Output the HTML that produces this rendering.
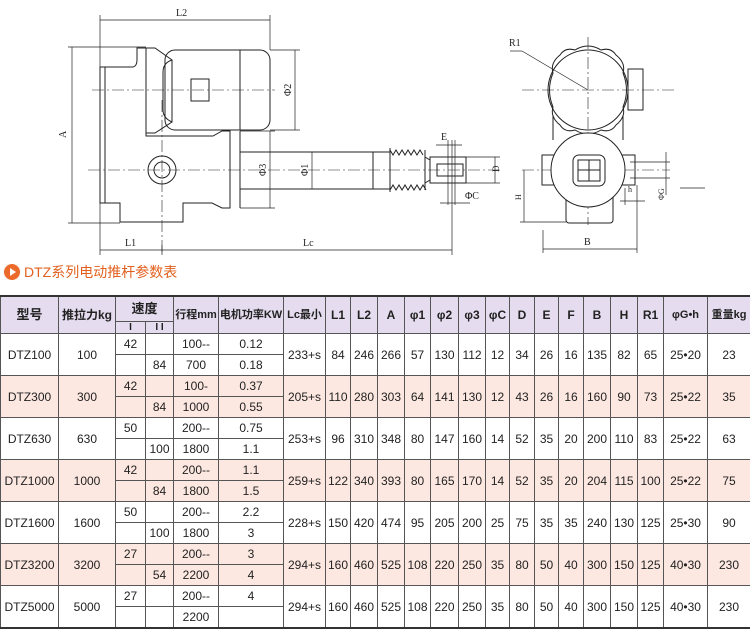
<!DOCTYPE html>
<html><head><meta charset="utf-8"><style>
body{margin:0;width:750px;height:630px;background:#fff;position:relative;overflow:hidden;font-family:"Liberation Sans","Noto Sans CJK SC",sans-serif;}
svg{position:absolute;left:0;top:0}
.title{position:absolute;left:4px;top:262px;height:20px;font-size:14px;color:#e2601e;line-height:20px;font-family:"Liberation Sans","Noto Sans CJK SC",sans-serif;}
.title i{display:inline-block;width:16px;height:16px;border-radius:50%;background:#ec6a2a;vertical-align:-3px;margin-right:4px;position:relative}
.title i:after{content:"";position:absolute;left:6px;top:4px;border-left:6px solid #fff;border-top:4px solid transparent;border-bottom:4px solid transparent}
table{position:absolute;left:0;top:295px;border-collapse:collapse;table-layout:fixed;width:750px;font-size:12px;color:#222}
td{border:1px solid #555;text-align:center;padding:0;height:20px;line-height:14px;overflow:hidden;white-space:nowrap}
tr.h td{background:#e5ddef;font-weight:bold}
tr.p td{background:#fde8e1}
table{border-top:2px solid #333;border-bottom:2px solid #333}
</style></head><body>
<svg width="750" height="260" viewBox="0 0 750 260" fill="none" stroke="#222" stroke-width="1" font-family="Liberation Serif" font-size="10">
<g stroke-width="0.7">
<line x1="100" y1="20" x2="270" y2="20"/><line x1="100" y1="15" x2="100" y2="255"/><line x1="270" y1="15" x2="270" y2="50"/>
<line x1="72" y1="47" x2="72" y2="223"/><line x1="68" y1="47" x2="146" y2="47"/><line x1="68" y1="223" x2="120" y2="223"/>
<line x1="270" y1="50" x2="300" y2="50"/><line x1="270" y1="130" x2="300" y2="130"/><line x1="295" y1="50" x2="295" y2="130"/>
<line x1="240" y1="131" x2="275" y2="131"/><line x1="240" y1="208" x2="275" y2="208"/><line x1="270" y1="131" x2="270" y2="208"/>
<line x1="312" y1="152" x2="312" y2="189"/>
<line x1="100" y1="250" x2="452" y2="250"/><line x1="162" y1="245" x2="162" y2="255"/><line x1="452" y1="140" x2="452" y2="255"/>
<line x1="436" y1="145" x2="462" y2="145"/><line x1="448" y1="140" x2="448" y2="205"/><line x1="455" y1="140" x2="455" y2="205"/>
<line x1="440" y1="203" x2="470" y2="203"/>
<line x1="465" y1="157" x2="500" y2="157"/><line x1="465" y1="183" x2="500" y2="183"/><line x1="495" y1="157" x2="495" y2="183"/>
</g>
<g stroke-dasharray="12,3,2,3" stroke-width="0.6">
<line x1="92" y1="90" x2="275" y2="90"/><line x1="88" y1="170" x2="500" y2="170"/><line x1="162" y1="100" x2="162" y2="255"/>
<line x1="588" y1="37" x2="588" y2="225"/><line x1="522" y1="90" x2="675" y2="90"/><line x1="522" y1="170" x2="670" y2="170"/>
</g>
<path d="M100 67H133Q137 66 137 60V48H146V136H213L222 131H230V208H222L212 203H183V222H120V203H100Z"/>
<line x1="105" y1="67" x2="105" y2="203"/>
<path d="M146 48H155L172 60V122L155 133H146"/>
<rect x="165" y="50" width="105" height="80" rx="10"/>
<path d="M172 60Q163 63 163 72V110Q163 118 172 122"/>
<line x1="240" y1="50" x2="240" y2="130"/>
<rect x="191" y="79" width="18" height="22"/>
<line x1="240" y1="131" x2="240" y2="208"/>
<rect x="240" y="152" width="150" height="37"/><line x1="373" y1="152" x2="373" y2="189"/>
<path d="M390 150l3 5 3-5 3 5 3-5 3 5 3-5 3 5 3-5 3 5 3-5 3 5 M390 190l3-5 3 5 3-5 3 5 3-5 3 5 3-5 3 5 3-5 3 5 3-5 3 5"/>
<line x1="390" y1="148" x2="390" y2="192"/><line x1="425" y1="150" x2="425" y2="190"/>
<path d="M425 157L430 160V180L425 183"/>
<rect x="430" y="157" width="36" height="26"/><rect x="437" y="164" width="26" height="12"/>
<circle cx="162" cy="170" r="14"/><circle cx="162" cy="170" r="8"/>
<g fill="#222" stroke="none">
<text x="176" y="16">L2</text><text x="125" y="246">L1</text><text x="303" y="246">Lc</text>
<text transform="translate(66,138) rotate(-90)">A</text>
<text transform="translate(291,96) rotate(-90)">Φ2</text>
<text transform="translate(266,176) rotate(-90)">Φ3</text>
<text transform="translate(308,176) rotate(-90)">Φ1</text>
<text x="441" y="140">E</text><text x="465" y="199">ΦC</text>
<text transform="translate(499,172) rotate(-90)" font-size="9">D</text>
<text x="509" y="46">R1</text><text x="584" y="245">B</text>
<text transform="translate(521,200) rotate(-90)" font-size="8">H</text>
<text x="628" y="192" font-size="8">h</text>
<text transform="translate(664,200) rotate(-90)" font-size="8">ΦG</text>
</g>
<g stroke-width="0.7">
<line x1="510" y1="51" x2="522" y2="51"/><line x1="522" y1="51" x2="588" y2="90"/>
<line x1="543" y1="230" x2="543" y2="253"/><line x1="637" y1="185" x2="637" y2="253"/><line x1="543" y1="249" x2="637" y2="249"/>
<line x1="524" y1="170" x2="524" y2="222"/><line x1="520" y1="222" x2="566" y2="222"/>
<line x1="666" y1="152" x2="666" y2="195"/><line x1="630" y1="162" x2="670" y2="162"/><line x1="630" y1="178" x2="670" y2="178"/>
<line x1="620" y1="201" x2="645" y2="201"/><line x1="625" y1="188" x2="625" y2="205"/>
<line x1="680" y1="188" x2="705" y2="188"/>
</g>
<path d="M560 55Q565 47 575 50Q588 42 601 50Q611 47 616 55Q626 63 623 73Q630 90 623 107Q626 117 616 125Q611 133 601 130Q588 138 575 130Q565 133 560 125Q550 117 553 107Q546 90 553 73Q550 63 560 55Z"/>
<circle cx="588" cy="90" r="40"/>
<rect x="628" y="69" width="15" height="41"/>
<line x1="553" y1="115" x2="553" y2="140"/><line x1="623" y1="115" x2="623" y2="140"/>
<rect x="542" y="155" width="12" height="30"/><rect x="622" y="155" width="13" height="30"/>
<rect x="566" y="185" width="47" height="38" rx="3"/>
<circle cx="588" cy="170" r="37" fill="#fff"/>
<rect x="573" y="155" width="32" height="31" rx="6"/><rect x="578" y="160" width="22" height="21"/>
<line x1="589" y1="160" x2="589" y2="181"/><line x1="578" y1="170" x2="600" y2="170"/>
</svg>
<div class="title"><i></i>DTZ系列电动推杆参数表</div>
<table>
<colgroup><col style="width:58px"><col style="width:57px"><col style="width:30px"><col style="width:28px"><col style="width:45px"><col style="width:65px"><col style="width:42px"><col style="width:25px"><col style="width:27px"><col style="width:27px"><col style="width:26px"><col style="width:28px"><col style="width:27px"><col style="width:24px"><col style="width:25px"><col style="width:24px"><col style="width:25px"><col style="width:27px"><col style="width:27px"><col style="width:26px"><col style="width:44px"><col style="width:43px"></colgroup>
<tr class="h"><td rowspan="2" style="font-size:13px">型号</td><td rowspan="2">推拉力kg</td><td colspan="2" style="height:24px;font-size:13px">速度</td><td rowspan="2" style="font-size:11px">行程mm</td><td rowspan="2" style="font-size:11px">电机功率KW</td><td rowspan="2" style="font-size:11px">Lc最小</td><td rowspan="2">L1</td><td rowspan="2">L2</td><td rowspan="2">A</td><td rowspan="2">φ1</td><td rowspan="2">φ2</td><td rowspan="2">φ3</td><td rowspan="2">φC</td><td rowspan="2">D</td><td rowspan="2">E</td><td rowspan="2">F</td><td rowspan="2">B</td><td rowspan="2">H</td><td rowspan="2">R1</td><td rowspan="2" style="font-size:11px">φG•h</td><td rowspan="2" style="font-size:11px">重量kg</td></tr>
<tr class="h"><td style="height:11px;font-size:10px;line-height:11px">I</td><td style="height:11px;font-size:10px;line-height:11px">I I</td></tr>
<tr><td rowspan="2">DTZ100</td><td rowspan="2">100</td><td>42</td><td></td><td>100--</td><td>0.12</td><td rowspan="2">233+s</td><td rowspan="2">84</td><td rowspan="2">246</td><td rowspan="2">266</td><td rowspan="2">57</td><td rowspan="2">130</td><td rowspan="2">112</td><td rowspan="2">12</td><td rowspan="2">34</td><td rowspan="2">26</td><td rowspan="2">16</td><td rowspan="2">135</td><td rowspan="2">82</td><td rowspan="2">65</td><td rowspan="2">25•20</td><td rowspan="2">23</td></tr>
<tr><td></td><td>84</td><td>700</td><td>0.18</td></tr>
<tr class="p"><td rowspan="2">DTZ300</td><td rowspan="2">300</td><td>42</td><td></td><td>100-</td><td>0.37</td><td rowspan="2">205+s</td><td rowspan="2">110</td><td rowspan="2">280</td><td rowspan="2">303</td><td rowspan="2">64</td><td rowspan="2">141</td><td rowspan="2">130</td><td rowspan="2">12</td><td rowspan="2">43</td><td rowspan="2">26</td><td rowspan="2">16</td><td rowspan="2">160</td><td rowspan="2">90</td><td rowspan="2">73</td><td rowspan="2">25•22</td><td rowspan="2">35</td></tr>
<tr class="p"><td></td><td>84</td><td>1000</td><td>0.55</td></tr>
<tr><td rowspan="2">DTZ630</td><td rowspan="2">630</td><td>50</td><td></td><td>200--</td><td>0.75</td><td rowspan="2">253+s</td><td rowspan="2">96</td><td rowspan="2">310</td><td rowspan="2">348</td><td rowspan="2">80</td><td rowspan="2">147</td><td rowspan="2">160</td><td rowspan="2">14</td><td rowspan="2">52</td><td rowspan="2">35</td><td rowspan="2">20</td><td rowspan="2">200</td><td rowspan="2">110</td><td rowspan="2">83</td><td rowspan="2">25•22</td><td rowspan="2">63</td></tr>
<tr><td></td><td>100</td><td>1800</td><td>1.1</td></tr>
<tr class="p"><td rowspan="2">DTZ1000</td><td rowspan="2">1000</td><td>42</td><td></td><td>200--</td><td>1.1</td><td rowspan="2">259+s</td><td rowspan="2">122</td><td rowspan="2">340</td><td rowspan="2">393</td><td rowspan="2">80</td><td rowspan="2">165</td><td rowspan="2">170</td><td rowspan="2">14</td><td rowspan="2">52</td><td rowspan="2">35</td><td rowspan="2">20</td><td rowspan="2">204</td><td rowspan="2">115</td><td rowspan="2">100</td><td rowspan="2">25•22</td><td rowspan="2">75</td></tr>
<tr class="p"><td></td><td>84</td><td>1800</td><td>1.5</td></tr>
<tr><td rowspan="2">DTZ1600</td><td rowspan="2">1600</td><td>50</td><td></td><td>200--</td><td>2.2</td><td rowspan="2">228+s</td><td rowspan="2">150</td><td rowspan="2">420</td><td rowspan="2">474</td><td rowspan="2">95</td><td rowspan="2">205</td><td rowspan="2">200</td><td rowspan="2">25</td><td rowspan="2">75</td><td rowspan="2">35</td><td rowspan="2">35</td><td rowspan="2">240</td><td rowspan="2">130</td><td rowspan="2">125</td><td rowspan="2">25•30</td><td rowspan="2">90</td></tr>
<tr><td></td><td>100</td><td>1800</td><td>3</td></tr>
<tr class="p"><td rowspan="2">DTZ3200</td><td rowspan="2">3200</td><td>27</td><td></td><td>200--</td><td>3</td><td rowspan="2">294+s</td><td rowspan="2">160</td><td rowspan="2">460</td><td rowspan="2">525</td><td rowspan="2">108</td><td rowspan="2">220</td><td rowspan="2">250</td><td rowspan="2">35</td><td rowspan="2">80</td><td rowspan="2">50</td><td rowspan="2">40</td><td rowspan="2">300</td><td rowspan="2">150</td><td rowspan="2">125</td><td rowspan="2">40•30</td><td rowspan="2">230</td></tr>
<tr class="p"><td></td><td>54</td><td>2200</td><td>4</td></tr>
<tr><td rowspan="2">DTZ5000</td><td rowspan="2">5000</td><td>27</td><td></td><td>200--</td><td>4</td><td rowspan="2">294+s</td><td rowspan="2">160</td><td rowspan="2">460</td><td rowspan="2">525</td><td rowspan="2">108</td><td rowspan="2">220</td><td rowspan="2">250</td><td rowspan="2">35</td><td rowspan="2">80</td><td rowspan="2">50</td><td rowspan="2">40</td><td rowspan="2">300</td><td rowspan="2">150</td><td rowspan="2">125</td><td rowspan="2">40•30</td><td rowspan="2">230</td></tr>
<tr><td></td><td></td><td>2200</td><td></td></tr>
</table>
</body></html>
